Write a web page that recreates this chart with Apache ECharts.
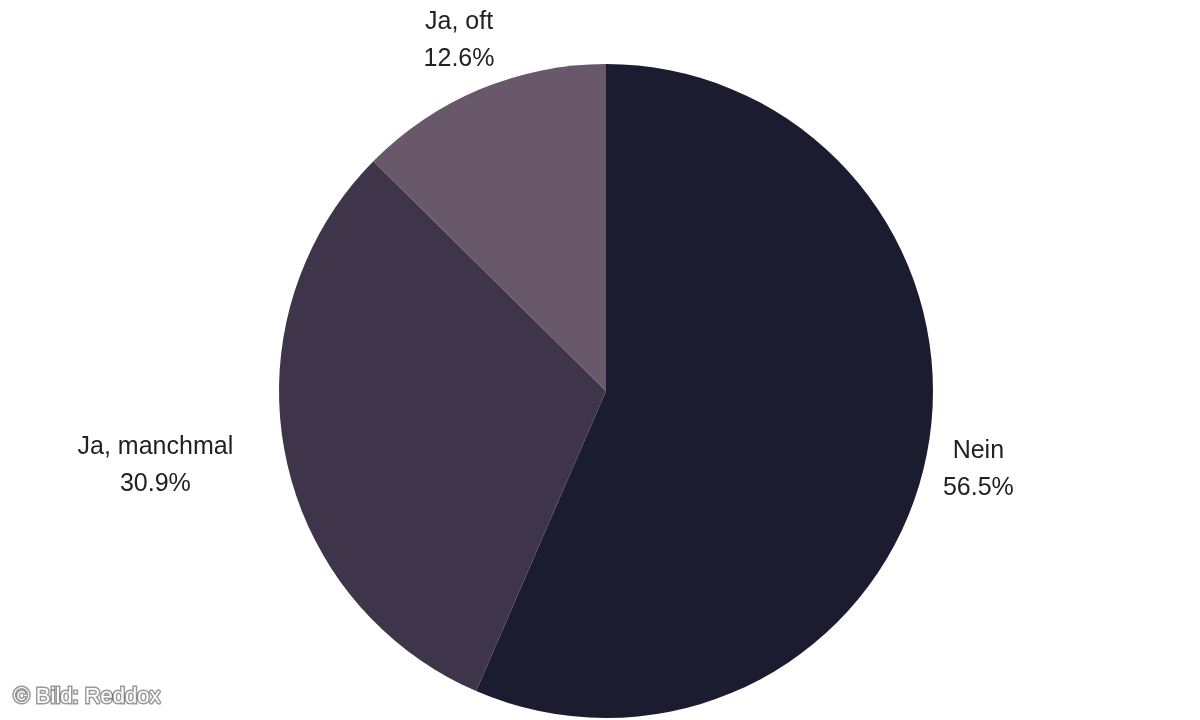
<!DOCTYPE html>
<html>
<head>
<meta charset="utf-8">
<script src="https://cdn.jsdelivr.net/npm/echarts@6/dist/echarts.min.js"></script>
<style>html,body{margin:0;padding:0;background:#fff}#c{width:1200px;height:720px}</style>
</head>
<body>
<div id="c"></div>
<script>
var categories = ['Nein', 'Ja, manchmal', 'Ja, oft'];
var values = [56.5, 30.9, 12.6];
var colors = ['#1b1c2f', '#3f354b', '#685869'];

// label placement tweaks (not data)
var labelLen = [62, 66, 53];
var labelLen2 = [-49, -18, -40];

var chart = echarts.init(document.getElementById('c'));
chart.setOption({
  animation: false,
  backgroundColor: '#fff',
  graphic: [{
    type: 'text', left: 12, top: 684,
    style: {
      text: '\u00a9 Bild: Reddox', fill: '#fff', font: '22px "Liberation Sans", Arial, sans-serif',
      stroke: 'rgba(70,70,70,0.55)', lineWidth: 3, strokeFirst: true,
      shadowColor: 'rgba(0,0,0,0.75)', shadowBlur: 6
    }
  }],
  series: [{
    type: 'pie',
    center: [606, 391],
    radius: 327,
    startAngle: 90,
    clockwise: true,
    avoidLabelOverlap: false,
    itemStyle: { borderWidth: 0 },
    emphasis: { disabled: true },
    data: categories.map(function (c, i) {
      return {
        name: c, value: values[i],
        itemStyle: { color: colors[i] },
        labelLine: { show: false, length: labelLen[i], length2: labelLen2[i] }
      };
    }),
    label: {
      show: true,
      position: 'outside',
      distanceToLabelLine: 5,
      formatter: function (p) { return '{t|' + p.name + '}\n{t|' + p.value.toFixed(1) + '%}'; },
      rich: {
        t: { align: 'center', fontSize: 25, lineHeight: 37, color: '#222',
             fontFamily: '"Liberation Sans", Arial, sans-serif' }
      }
    }
  }]
});
</script>
</body>
</html>
